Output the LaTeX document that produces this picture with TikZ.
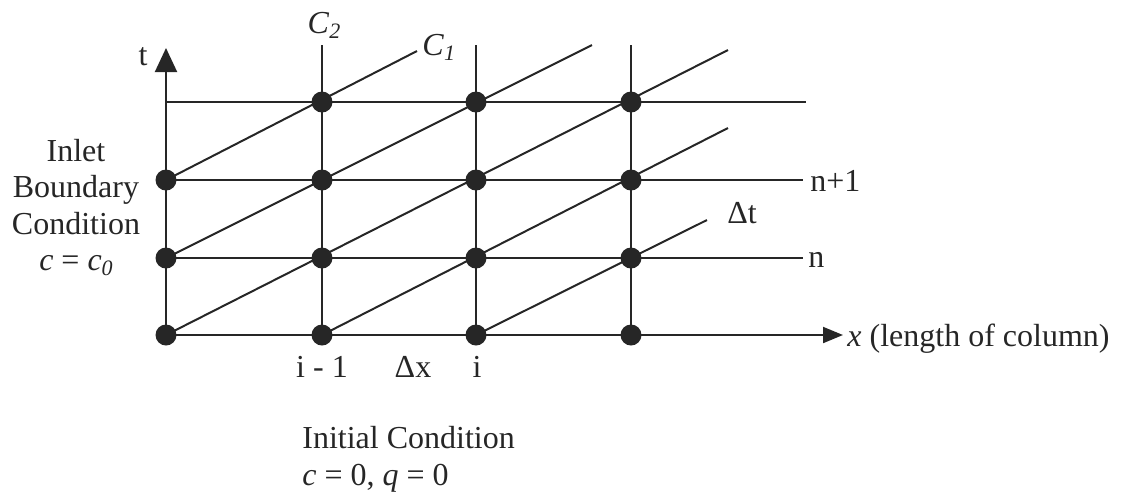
\documentclass[tikz,border=0pt]{standalone}
\usepackage{fontspec}
\setmainfont{Liberation Serif}
\usetikzlibrary{arrows.meta}
\newcommand{\lowsub}[1]{\raisebox{-0.35ex}{\fontsize{11}{12}\selectfont\textit{#1}}}
\begin{document}
\begin{tikzpicture}[x=0.5pt,y=-0.5pt,
  gline/.style={line width=1pt,draw=black!85},
  gdot/.style={circle,fill=black!85,draw=none,inner sep=0pt,minimum size=10.5pt},
  lbl/.style={inner sep=0pt,font=\fontsize{16}{18.5}\selectfont,text=black!85},
  tarrow/.style={-{Triangle[length=12pt,width=11pt]}},
  xarrow/.style={-{Triangle[length=10pt,width=8pt]}}
]
\useasboundingbox (0,0) rectangle (1121,495);
% grid coordinates
\foreach \c/\xx in {0/166,1/322,2/476,3/631}{
  \foreach \r/\yy in {0/335,1/258,2/180,3/102}{
    \coordinate (p\c\r) at (\xx,\yy);
  }
}
% free ends
\coordinate (ttip) at (166,48);
\coordinate (xtip) at (843,335);
\coordinate (topR) at (806,102);
\coordinate (np1R) at (803,180);
\coordinate (nR) at (803,258);
\coordinate (v1T) at (322,45);
\coordinate (v2T) at (476,45);
\coordinate (v3T) at (631,45);
\coordinate (d1E) at (417,51);
\coordinate (d2E) at (592,45);
\coordinate (d3E) at (728,50);
\coordinate (d4E) at (728,128);
\coordinate (d5E) at (707,220);
% axes and grid lines
\draw[gline,tarrow] (p00) -- (ttip);
\draw[gline,xarrow] (p00) -- (xtip);
\draw[gline] (p03) -- (topR);
\draw[gline] (p02) -- (np1R);
\draw[gline] (p01) -- (nR);
\draw[gline] (p10) -- (v1T);
\draw[gline] (p20) -- (v2T);
\draw[gline] (p30) -- (v3T);
% characteristic lines
\draw[gline] (p02) -- (d1E);
\draw[gline] (p01) -- (d2E);
\draw[gline] (p00) -- (d3E);
\draw[gline] (p10) -- (d4E);
\draw[gline] (p20) -- (d5E);
% dots
\foreach \c in {0,1,2,3}{
  \foreach \r in {0,1,2}{
    \node[gdot] (n\c\r) at (p\c\r) {};
  }
}
\foreach \c in {1,2,3}{
  \node[gdot] (n\c3) at (p\c3) {};
}
% labels
\node[lbl,anchor=base] (tlab) at (143,65) {t};
\node[lbl,anchor=base] (c2lab) at (324,33) {\textit{C}\lowsub{2}};
\node[lbl,anchor=base west] (c1lab) at (422,55) {\textit{C}\lowsub{1}};
\node[lbl,anchor=base west] (np1lab) at (810,191) {n+1};
\node[lbl,anchor=base west] (nlab) at (808,267) {n};
\node[lbl,anchor=base west] (dtlab) at (727,223) {Δt};
\node[lbl,anchor=base west] (xlab) at (847,346) {\textit{x} (length of column)};
\node[lbl,anchor=base] (im1lab) at (322,377) {i - 1};
\node[lbl,anchor=base] (dxlab) at (413,377) {Δx};
\node[lbl,anchor=base] (ilab) at (477,377) {i};
\node[lbl,anchor=base] (inlet1) at (76,161) {Inlet};
\node[lbl,anchor=base] (inlet2) at (76,197) {Boundary};
\node[lbl,anchor=base] (inlet3) at (76,234) {Condition};
\node[lbl,anchor=base] (inlet4) at (76,270) {\textit{c} = \textit{c}\lowsub{0}};
\node[lbl,anchor=base west] (init1) at (302,448) {Initial Condition};
\node[lbl,anchor=base west] (init2) at (302,485) {\textit{c} = 0, \textit{q} = 0};
\end{tikzpicture}
\end{document}
